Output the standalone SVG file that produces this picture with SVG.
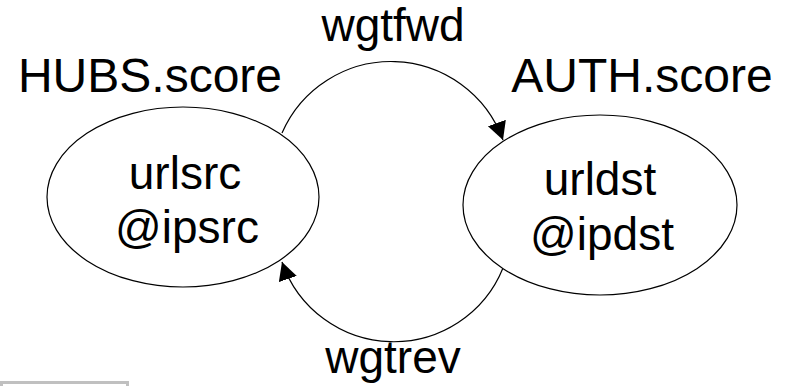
<svg xmlns="http://www.w3.org/2000/svg" width="785" height="386" viewBox="0 0 785 386">
  <style>
    .node { fill: #ffffff; stroke: #000000; stroke-width: 1.2; }
    .edge { fill: none; stroke: #000000; stroke-width: 1.2; }
    text { font-family: "Liberation Sans", Arial, sans-serif; font-size: 46px; fill: #000000; text-anchor: middle; }
    .score { font-size: 48px; }
  </style>
  <defs>
    <marker id="arrow" markerUnits="userSpaceOnUse" markerWidth="19" markerHeight="20" refX="18" refY="9.5" orient="auto">
      <path d="M0,0 L18,9.5 L0,19 z" fill="#000000"/>
    </marker>
  </defs>
  <rect width="785" height="386" fill="#ffffff"/>

  <!-- connectors -->
  <g id="edges">
    <path id="edge-fwd" class="edge" d="M 282 133 A 119 119 0 0 1 503 140" marker-end="url(#arrow)"/>
    <path id="edge-rev" class="edge" d="M 503 268 A 118 118 0 0 1 282 262" marker-end="url(#arrow)"/>
    <text x="393" y="41">wgtfwd</text>
    <text x="393" y="373">wgtrev</text>
  </g>

  <!-- source node -->
  <g id="node-src">
    <ellipse class="node" cx="183" cy="197" rx="136" ry="90"/>
    <text x="185" y="189">urlsrc</text>
    <text x="187" y="243">@ipsrc</text>
    <text class="score" x="150" y="92">HUBS.score</text>
  </g>

  <!-- destination node -->
  <g id="node-dst">
    <ellipse class="node" cx="600" cy="205" rx="137" ry="90"/>
    <text x="600" y="195">urldst</text>
    <text x="602" y="250">@ipdst</text>
    <text class="score" x="642" y="92">AUTH.score</text>
  </g>

  <!-- partially visible frame at the lower left -->
  <rect x="1.5" y="382.5" width="126" height="20" fill="#ffffff" stroke="#c0c0c0" stroke-width="3"/>
</svg>
